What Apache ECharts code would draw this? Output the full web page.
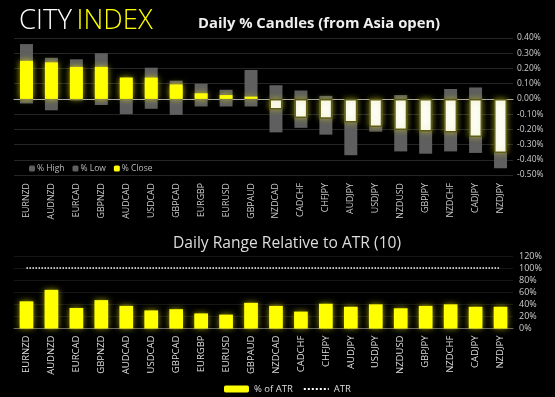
<!DOCTYPE html>
<html>
<head>
<meta charset="utf-8">
<script src="https://cdn.jsdelivr.net/npm/echarts@6/dist/echarts.min.js"></script>
<style>
  html, body { margin: 0; padding: 0; background: #000; }
  #main { width: 555px; height: 397px; }
</style>
</head>
<body>
<div id="main"></div>
<script>
const pairs = ['EURNZD', 'AUDNZD', 'EURCAD', 'GBPNZD', 'AUDCAD', 'USDCAD', 'GBPCAD', 'EURGBP', 'EURUSD', 'GBPAUD',
  'NZDCAD', 'CADCHF', 'CHFJPY', 'AUDJPY', 'USDJPY', 'NZDUSD', 'GBPJPY', 'NZDCHF', 'CADJPY', 'NZDJPY']
const pctHigh = [0.36, 0.27, 0.26, 0.30, 0.14, 0.205, 0.12, 0.10, 0.06, 0.19,
  0.09, 0.055, 0.02, 0.0, 0.0, 0.025, 0.0, 0.065, 0.075, 0.0]
const pctLow = [-0.03, -0.075, -0.01, -0.04, -0.10, -0.065, -0.105, -0.05, -0.05, -0.05,
  -0.22, -0.19, -0.235, -0.37, -0.215, -0.345, -0.36, -0.345, -0.355, -0.455]
const pctClose = [0.25, 0.24, 0.21, 0.21, 0.14, 0.14, 0.095, 0.037, 0.025, 0.015,
  -0.07, -0.125, -0.13, -0.155, -0.185, -0.205, -0.215, -0.22, -0.25, -0.355]
const pctOfAtr = [45, 64, 34, 47, 37.5, 30, 32, 25, 23, 42.5,
  37.5, 28, 41, 36, 40, 33.5, 37.5, 40, 36, 36]
const atrLine = pairs.map(() => 100)

const font = 'Open Sans'
const yellow = '#ffff00'
const grey = '#5f5f5f'

var chart = echarts.init(document.getElementById('main'))
chart.setOption({
  backgroundColor: '#000',
  textStyle: { fontFamily: font },
  animation: false,
  title: [
    {
      text: '{a|CITY} {b|INDEX}',
      left: 14, top: 2,
      textStyle: {
        fontWeight: 'lighter',
        rich: {
          a: { color: '#fff', fontSize: 27.5, fontWeight: 'lighter', fontFamily: font },
          b: { color: yellow, fontSize: 27.5, fontWeight: 'lighter', fontFamily: font }
        }
      }
    },
    {
      text: 'Daily % Candles (from Asia open)',
      left: 193, top: 11,
      textStyle: { color: '#eee', fontSize: 14.8, fontWeight: 'bold', fontFamily: font }
    },
    {
      text: 'Daily Range Relative to ATR (10)',
      left: 168, top: 231,
      textStyle: { color: '#ddd', fontSize: 15.6, fontWeight: 'normal', fontFamily: font }
    }
  ],
  legend: [
    {
      data: ['% High', '% Low', '% Close'],
      left: 24, top: 159,
      itemWidth: 6, itemHeight: 6, itemGap: 8,
      textStyle: { color: '#bbb', fontSize: 8.5, padding: [0, 0, 0, -3] },
      selectedMode: false
    },
    {
      data: ['% of ATR', { name: 'ATR', itemStyle: { opacity: 0 } }],
      left: 219, top: 379,
      itemWidth: 25, itemHeight: 7, itemGap: 10,
      textStyle: { color: '#ddd', fontSize: 9.5 },
      selectedMode: false
    }
  ],
  grid: [
    { left: 14, width: 499, top: 38, height: 137 },
    { left: 14, width: 499, top: 256, height: 72.5 }
  ],
  xAxis: [
    {
      type: 'category', gridIndex: 0, data: pairs,
      axisLine: { show: true, onZero: true, lineStyle: { color: '#aaa', width: 1 } },
      axisTick: { show: false },
      axisLabel: { rotate: 90, color: '#ccc', fontSize: 8.8, margin: 8, interval: 0 },
      position: 'bottom'
    },
    {
      type: 'category', gridIndex: 1, data: pairs,
      axisLine: { show: true, lineStyle: { color: '#666', width: 1 } },
      axisTick: { show: false },
      axisLabel: { rotate: 90, color: '#ddd', fontSize: 9.5, margin: 7, interval: 0 }
    }
  ],
  yAxis: [
    {
      type: 'value', gridIndex: 0, position: 'right',
      min: -0.5, max: 0.4, interval: 0.1,
      axisLabel: { color: '#ccc', fontSize: 8.5, margin: 4, formatter: v => v.toFixed(2) + '%' },
      splitLine: { lineStyle: { color: '#262626' } },
      axisLine: { show: false }, axisTick: { show: false }
    },
    {
      type: 'value', gridIndex: 1, position: 'right',
      min: 0, max: 120, interval: 20,
      axisLabel: { color: '#ccc', fontSize: 9, margin: 6, formatter: v => v + '%' },
      splitLine: { lineStyle: { color: '#161616' } },
      axisLine: { show: false }, axisTick: { show: false }
    }
  ],
  series: [
    {
      name: '% High', type: 'bar', xAxisIndex: 0, yAxisIndex: 0,
      data: pctHigh, barWidth: '52%', barGap: '-100%',
      itemStyle: { color: grey }
    },
    {
      name: '% Low', type: 'bar', xAxisIndex: 0, yAxisIndex: 0,
      data: pctLow, barWidth: '52%', barGap: '-100%',
      itemStyle: { color: grey }
    },
    {
      name: '% Close', type: 'bar', xAxisIndex: 0, yAxisIndex: 0,
      barWidth: '52%', barGap: '-100%',
      itemStyle: { color: yellow },
      data: pctClose.map(v => v >= 0
        ? { value: v, itemStyle: { color: yellow, shadowBlur: 6, shadowColor: 'rgba(255,255,0,0.7)' } }
        : { value: v, itemStyle: { color: '#fff', borderColor: '#5e5e18', borderWidth: 1.5, shadowBlur: 6, shadowColor: 'rgba(200,200,40,0.6)' } })
    },
    {
      name: '% of ATR', type: 'bar', xAxisIndex: 1, yAxisIndex: 1,
      data: pctOfAtr, barWidth: '55%',
      itemStyle: { color: yellow, shadowBlur: 6, shadowColor: 'rgba(255,255,0,0.6)' }
    },
    {
      name: 'ATR', type: 'line', xAxisIndex: 1, yAxisIndex: 1,
      data: atrLine, symbol: 'none',
      lineStyle: { color: '#fff', width: 1.5, type: 'dotted' },
      itemStyle: { color: '#fff' }
    }
  ]
})
</script>
</body>
</html>
